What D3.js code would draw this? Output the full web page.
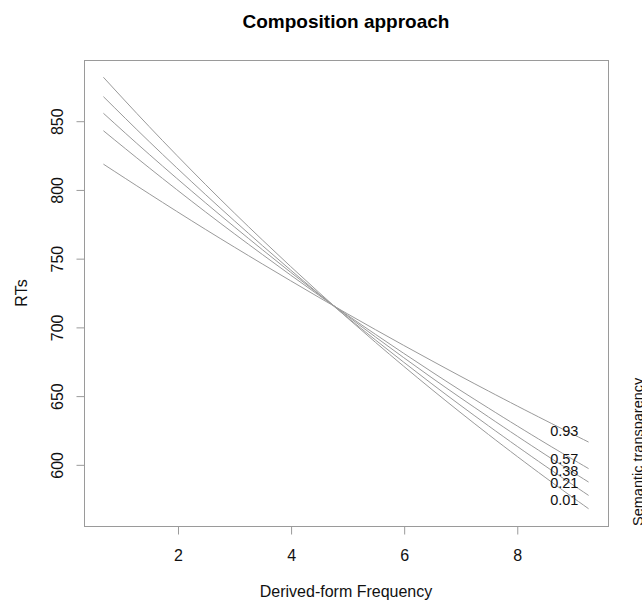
<!DOCTYPE html>
<html>
<head>
<meta charset="utf-8">
<script src="https://cdn.jsdelivr.net/npm/d3@7"></script>
<style>
  html, body { margin: 0; padding: 0; background: #fff; }
  svg { display: block; font-family: "Liberation Sans", Arial, sans-serif; }
</style>
</head>
<body>
<svg id="chart" width="642" height="601"></svg>
<script>
// ---- data ----
const xValues = [0.69, 1.5, 2.5, 3.5, 4.5, 5.5, 6.5, 7.5, 8.5, 9.27];
const seriesNames = ["0.01", "0.21", "0.38", "0.57", "0.93"];
const rt_001 = [881.6, 845.7, 803.4, 763.3, 725.1, 688.8, 654.4, 621.7, 590.6, 567.7];
const rt_021 = [867.5, 834.8, 796.1, 759.2, 724.0, 690.5, 658.5, 628.0, 598.9, 577.4];
const rt_038 = [855.4, 825.5, 790.1, 756.2, 723.7, 692.7, 662.9, 634.5, 607.2, 587.1];
const rt_057 = [842.7, 815.7, 783.5, 752.7, 723.0, 694.6, 667.2, 640.9, 615.6, 596.9];
const rt_093 = [818.4, 796.8, 770.8, 745.8, 721.5, 698.0, 675.3, 653.3, 632.1, 616.2];
const labelTexts = ["0.93", "0.57", "0.38", "0.21", "0.01"];
const labelX = 8.84;
const labelY = [624.4, 603.8, 595.0, 586.5, 574.4];
const xTicks = [2, 4, 6, 8];
const yTicks = [600, 650, 700, 750, 800, 850];
const titleText = "Composition approach";
const xTitle = "Derived-form Frequency";
const yTitle = "RTs";
const legendTitle = "Semantic transparency";

const seriesValues = [rt_001, rt_021, rt_038, rt_057, rt_093];

// ---- layout ----
const plot = { left: 84, right: 608, top: 60, bottom: 526 };
const svg = d3.select("#chart");

// R-style 4% axis extension
function ext(lo, hi) { const d = (hi - lo) * 0.04; return [lo - d, hi + d]; }
const allY = seriesValues.flat();
const x = d3.scaleLinear().domain(ext(d3.min(xValues), d3.max(xValues))).range([plot.left, plot.right]);
const y = d3.scaleLinear().domain(ext(d3.min(allY), d3.max(allY))).range([plot.bottom, plot.top]);

const boxColor = "#9a9a9a";

// lines
const line = d3.line()
  .x((d, i) => x(xValues[i]))
  .y(d => y(d))
  .curve(d3.curveNatural);

svg.append("g")
  .selectAll("path")
  .data(seriesValues)
  .join("path")
  .attr("d", d => line(d))
  .attr("fill", "none")
  .attr("stroke", "#9a9a9a")
  .attr("stroke-width", 1);

// box
svg.append("rect")
  .attr("x", plot.left + 0.5).attr("y", plot.top + 0.5)
  .attr("width", plot.right - plot.left).attr("height", plot.bottom - plot.top)
  .attr("fill", "none").attr("stroke", boxColor).attr("stroke-width", 1);

// x axis
const xAxis = svg.append("g")
  .attr("transform", `translate(0.5,${plot.bottom + 0.5})`)
  .call(d3.axisBottom(x).tickValues(xTicks).tickSize(8).tickSizeOuter(0).tickPadding(0).tickFormat(d3.format("d")));
xAxis.select(".domain").remove();
xAxis.selectAll(".tick line").attr("stroke", boxColor);
xAxis.selectAll(".tick text")
  .attr("y", 34).attr("dy", null)
  .attr("font-size", 16).attr("font-family", "Liberation Sans, Arial, sans-serif")
  .attr("fill", "#111");

// y axis
const yAxis = svg.append("g")
  .attr("transform", `translate(${plot.left + 0.5},0.5)`)
  .call(d3.axisLeft(y).tickValues(yTicks).tickSize(8).tickSizeOuter(0).tickFormat(d3.format("d")));
yAxis.select(".domain").remove();
yAxis.selectAll(".tick line").attr("stroke", boxColor);
yAxis.selectAll(".tick text")
  .attr("x", null).attr("dy", null)
  .attr("transform", "translate(-22,0) rotate(-90)")
  .attr("text-anchor", "middle")
  .attr("font-size", 16).attr("font-family", "Liberation Sans, Arial, sans-serif")
  .attr("fill", "#111");

// series labels
svg.append("g")
  .selectAll("text")
  .data(labelTexts)
  .join("text")
  .attr("x", x(labelX))
  .attr("y", (d, i) => y(labelY[i]))
  .attr("dy", "0.35em")
  .attr("text-anchor", "middle")
  .attr("font-size", 14.5)
  .attr("fill", "#111")
  .text(d => d);

// titles
svg.append("text")
  .attr("x", (plot.left + plot.right) / 2).attr("y", 28)
  .attr("text-anchor", "middle").attr("font-size", 19).attr("font-weight", "bold")
  .attr("fill", "#000").text(titleText);

svg.append("text")
  .attr("x", (plot.left + plot.right) / 2).attr("y", 597)
  .attr("text-anchor", "middle").attr("font-size", 16)
  .attr("fill", "#111").text(xTitle);

svg.append("text")
  .attr("transform", `translate(27,${(plot.top + plot.bottom) / 2}) rotate(-90)`)
  .attr("text-anchor", "middle").attr("font-size", 16)
  .attr("fill", "#111").text(yTitle);

svg.append("text")
  .attr("transform", `translate(643,${plot.bottom}) rotate(-90)`)
  .attr("text-anchor", "start").attr("font-size", 14.5)
  .attr("fill", "#111").text(legendTitle);
</script>
</body>
</html>
